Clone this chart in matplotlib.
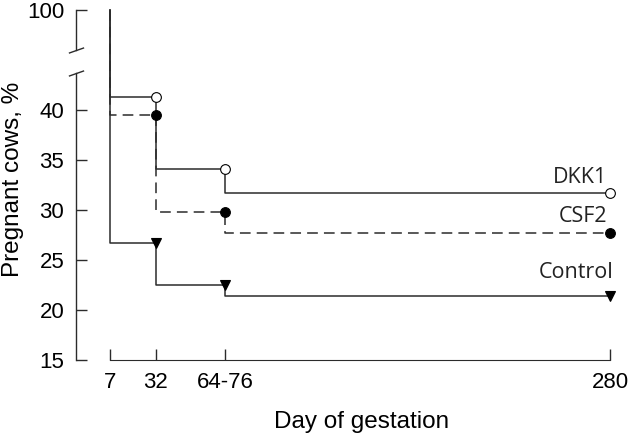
import numpy as np
import matplotlib
matplotlib.use('Agg')
import matplotlib.pyplot as plt
import matplotlib.transforms as mtransforms

plt.rcParams['font.family'] = ['Liberation Sans', 'DejaVu Sans']

days = [7, 32, 70, 280]
day_labels = ['7', '32', '64-76', '280']
dkk1 = [41.3, 34.1, 31.7]
csf2 = [39.5, 29.8, 27.7]
control = [26.7, 22.5, 21.4]
start = 100
y_ticks = [15, 20, 25, 30, 35, 40, 100]


# broken y axis: squeeze 44..96 into a small gap
def fwd(y):
    y = np.asarray(y, float)
    return np.where(y <= 44, y, np.where(y >= 96, y - 50, 44 + (y - 44) * 2 / 52))


def inv(z):
    z = np.asarray(z, float)
    return np.where(z <= 44, z, np.where(z >= 46, z + 50, 44 + (z - 44) * 52 / 2))


fig = plt.figure(figsize=(6.3, 4.37), dpi=100)
ax = fig.add_axes([76 / 630, 77 / 437, 544 / 630, 350 / 437])
ax.set_yscale('function', functions=(fwd, inv))
ax.set_ylim(15, 100)
ax.set_xlim(7 - 34 / 1.832, 7 + 510 / 1.832)

lc = '#2b2b2b'


def series(vals, ls, marker, mfc, name, tx, ty):
    xs = [days[0]] + days
    ys = [start] + vals + [vals[-1]]
    ax.step(xs, ys, where='post', color=lc, lw=1.1, ls=ls, dashes=(7, 4) if ls == '--' else (None, None),
            clip_on=False, zorder=2)
    ax.plot(days[1:], vals, ls='none', marker=marker, ms=7 if marker == 'o' else 7.5,
            mfc=mfc, mec='black', mew=0.8, clip_on=False, zorder=3)
    ax.text(tx, ty, name, ha='right', va='baseline', fontsize=15.5,
            family=['Open Sans', 'DejaVu Sans'], color='#222222')


series(csf2, '--', 'o', 'black', 'CSF2', 278.3, 28.8)
series(dkk1, '-', 'o', 'white', 'DKK1', 278.3, 32.7)
series(control, '-', 'v', 'black', 'Control', 282.1, 23.2)

for s in ['top', 'right', 'left']:
    ax.spines[s].set_visible(False)
ax.spines['bottom'].set_bounds(days[0], days[-1])
ax.spines['bottom'].set_color(lc)

# left spine in two pieces with break marks
tr = mtransforms.blended_transform_factory(ax.transAxes, ax.transData)
ax.plot([0, 0], [15, 43.7], color=lc, lw=1.0, transform=tr, clip_on=False)
ax.plot([0, 0], [95.8, 100], color=lc, lw=1.0, transform=tr, clip_on=False)
ax.plot([0, 0], [95.8, 43.7], ls='none', marker=[(-1, -0.35), (1, 0.35)], ms=11,
        mec=lc, mew=1.0, transform=tr, clip_on=False)

ax.set_yticks(y_ticks)
ax.set_yticklabels([str(t) for t in y_ticks])
ax.set_xticks(days)
ax.set_xticklabels(day_labels)
ax.tick_params(axis='both', direction='in', length=8, width=1.0, color=lc, labelsize=16, pad=8.5)

ax.set_ylabel('Pregnant cows, %', fontsize=17.5)
ax.yaxis.set_label_coords(-0.0956, 0.517)
ax.set_xlabel('Day of gestation', fontsize=17.5)
ax.xaxis.set_label_coords((362 - 76) / 544, -0.146)

fig.savefig('out.png', dpi=100)
